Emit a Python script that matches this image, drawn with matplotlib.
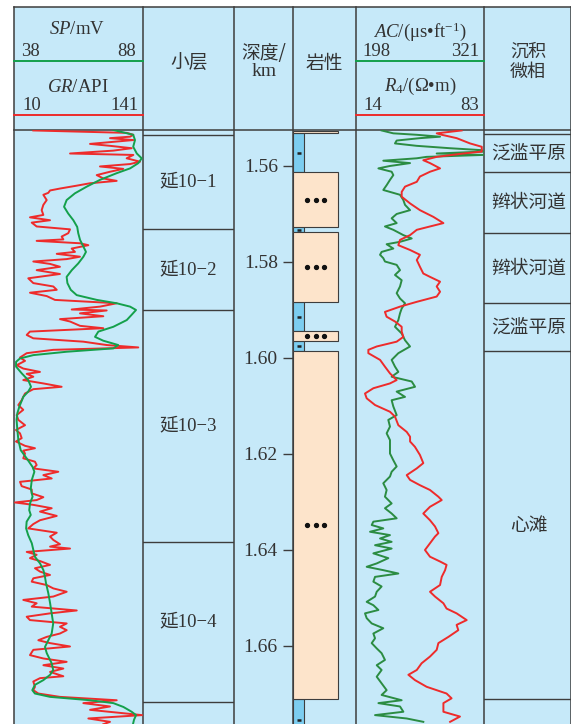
import matplotlib
matplotlib.use('Agg')
import matplotlib.pyplot as plt
from matplotlib.patches import Rectangle

plt.rcParams['mathtext.fontset'] = 'custom'
plt.rcParams['mathtext.rm'] = 'Liberation Serif'
plt.rcParams['mathtext.it'] = 'Liberation Serif:italic'

# ---- well log data (depth in km) ----
SP_DEPTH = [1.5525, 1.5535, 1.5546, 1.5560, 1.5574, 1.5584, 1.5594, 1.5605, 1.5615, 1.5629,
            1.5643, 1.5657, 1.5671, 1.5685, 1.5699, 1.5713, 1.5727, 1.5740, 1.5754, 1.5768,
            1.5779, 1.5789, 1.5803, 1.5817, 1.5831, 1.5844, 1.5858, 1.5869, 1.5879, 1.5886,
            1.5893, 1.5900, 1.5910, 1.5921, 1.5935, 1.5945, 1.5956, 1.5964, 1.5973, 1.5980,
            1.5987, 1.5994, 1.6001, 1.6008, 1.6018, 1.6032, 1.6046, 1.6060, 1.6070, 1.6081,
            1.6101, 1.6115, 1.6129, 1.6150, 1.6171, 1.6192, 1.6209, 1.6227, 1.6237, 1.6254,
            1.6272, 1.6289, 1.6303, 1.6317, 1.6327, 1.6341, 1.6355, 1.6369, 1.6386, 1.6400,
            1.6414, 1.6428, 1.6442, 1.6456, 1.6469, 1.6490, 1.6511, 1.6532, 1.6553, 1.6574,
            1.6588, 1.6602, 1.6615, 1.6636, 1.6650, 1.6660, 1.6671, 1.6681, 1.6692, 1.6699,
            1.6706, 1.6713, 1.6719, 1.6727, 1.6737, 1.6744, 1.6754, 1.6761]
SP = [76.5, 84.2, 84.9, 84.2, 85.6, 87.5, 86.2, 83.0, 77.8, 71.3,
      66.2, 61.6, 58.4, 57.4, 59.0, 61.0, 62.5, 62.9, 63.6, 64.9,
      65.9, 64.9, 62.9, 60.4, 58.4, 58.7, 60.0, 62.3, 70.1, 77.8,
      83.0, 85.3, 83.6, 81.7, 76.5, 70.7, 69.4, 72.6, 78.4, 76.5,
      58.4, 45.5, 40.3, 38.8, 38.8, 41.0, 43.5, 44.6, 43.5, 41.6,
      40.1, 39.3, 39.0, 39.3, 39.7, 40.6, 42.9, 45.2, 45.9, 44.9,
      44.5, 45.2, 44.2, 43.9, 44.5, 42.9, 42.7, 43.5, 44.9, 45.5,
      46.1, 48.1, 49.4, 50.0, 50.4, 51.3, 52.0, 52.6, 53.2, 52.6,
      51.3, 50.0, 50.7, 52.6, 53.2, 52.0, 49.4, 46.1, 45.1, 46.1,
      52.0, 67.5, 76.5, 80.4, 83.6, 85.3, 84.5, 84.2]

GR_DEPTH = [1.5526, 1.5531, 1.5535, 1.5539, 1.5542, 1.5546, 1.5554, 1.5558, 1.5563, 1.5568,
            1.5574, 1.5577, 1.5584, 1.5591, 1.5596, 1.5601, 1.5606, 1.5612, 1.5619, 1.5626,
            1.5631, 1.5636, 1.5641, 1.5647, 1.5651, 1.5656, 1.5660, 1.5671, 1.5681, 1.5692,
            1.5702, 1.5707, 1.5713, 1.5718, 1.5726, 1.5732, 1.5740, 1.5747, 1.5753, 1.5756,
            1.5761, 1.5765, 1.5772, 1.5779, 1.5783, 1.5789, 1.5794, 1.5799, 1.5804, 1.5810,
            1.5817, 1.5825, 1.5834, 1.5844, 1.5851, 1.5858, 1.5864, 1.5871, 1.5879, 1.5886,
            1.5893, 1.5899, 1.5901, 1.5907, 1.5913, 1.5919, 1.5924, 1.5933, 1.5938, 1.5945,
            1.5952, 1.5959, 1.5966, 1.5973, 1.5978, 1.5983, 1.5990, 1.5999, 1.6006, 1.6015,
            1.6022, 1.6029, 1.6033, 1.6039, 1.6046, 1.6053, 1.6060, 1.6065, 1.6074, 1.6081,
            1.6088, 1.6098, 1.6108, 1.6119, 1.6129, 1.6140, 1.6150, 1.6157, 1.6167, 1.6174,
            1.6183, 1.6188, 1.6193, 1.6199, 1.6209, 1.6216, 1.6223, 1.6230, 1.6237, 1.6244,
            1.6251, 1.6258, 1.6267, 1.6274, 1.6282, 1.6290, 1.6296, 1.6301, 1.6306, 1.6313,
            1.6320, 1.6329, 1.6338, 1.6346, 1.6355, 1.6364, 1.6372, 1.6379, 1.6388, 1.6393,
            1.6397, 1.6404, 1.6410, 1.6417, 1.6423, 1.6431, 1.6438, 1.6445, 1.6452, 1.6459,
            1.6466, 1.6473, 1.6480, 1.6487, 1.6497, 1.6504, 1.6511, 1.6518, 1.6526, 1.6532,
            1.6539, 1.6546, 1.6553, 1.6560, 1.6567, 1.6574, 1.6581, 1.6588, 1.6594, 1.6601,
            1.6608, 1.6619, 1.6626, 1.6633, 1.6640, 1.6647, 1.6654, 1.6663, 1.6667, 1.6674,
            1.6685, 1.6692, 1.6699, 1.6706, 1.6713, 1.6719, 1.6726, 1.6733, 1.6744, 1.6751,
            1.6758, 1.6763]
GR = [29.6, 124.4, 131.2, 127.8, 107.5, 131.2, 87.2, 107.5, 129.5, 110.8,
      66.9, 131.2, 124.4, 138.0, 127.8, 97.3, 121.0, 107.5, 94.0, 100.7,
      114.3, 87.2, 73.7, 56.7, 46.6, 44.8, 39.8, 43.2, 39.8, 38.1,
      39.8, 26.2, 46.6, 28.0, 33.0, 66.9, 65.1, 58.4, 60.1, 33.0,
      77.0, 85.5, 68.6, 71.9, 53.4, 77.0, 63.5, 29.6, 46.6, 56.7,
      33.0, 56.7, 24.5, 29.6, 49.9, 53.4, 26.2, 43.2, 51.6, 114.3,
      97.3, 68.6, 104.1, 77.0, 100.7, 56.7, 66.9, 77.0, 100.7, 26.2,
      22.9, 29.6, 80.4, 104.1, 136.2, 49.9, 22.9, 16.1, 21.2, 12.7,
      19.4, 36.4, 22.9, 29.6, 19.4, 39.8, 58.4, 29.6, 21.2, 19.4,
      17.8, 14.4, 19.4, 12.7, 14.4, 21.2, 12.0, 16.1, 17.8, 12.0,
      21.2, 31.3, 19.4, 21.2, 19.4, 31.3, 33.0, 29.6, 55.0, 39.8,
      48.3, 16.1, 17.8, 28.0, 28.0, 39.8, 33.0, 11.0, 29.6, 48.3,
      36.4, 53.4, 36.4, 29.6, 24.5, 53.4, 46.6, 49.9, 56.7, 46.6,
      66.9, 22.9, 33.0, 26.2, 36.4, 46.6, 31.3, 36.4, 46.6, 29.6,
      28.0, 43.2, 49.9, 63.5, 49.9, 19.4, 33.0, 28.0, 73.7, 46.6,
      22.9, 26.2, 63.5, 56.7, 63.5, 56.7, 43.2, 34.7, 46.6, 66.9,
      29.6, 26.2, 39.8, 63.5, 39.8, 60.1, 46.6, 60.1, 36.4, 29.6,
      31.3, 29.6, 34.7, 56.7, 114.3, 80.4, 107.5, 87.2, 140.0, 85.5,
      107.5, 100.7]

AC_DEPTH = [1.5526, 1.5532, 1.5535, 1.5539, 1.5542, 1.5547, 1.5553, 1.5558, 1.5563, 1.5567,
            1.5570, 1.5574, 1.5577, 1.5581, 1.5584, 1.5589, 1.5594, 1.5600, 1.5605, 1.5612,
            1.5619, 1.5629, 1.5640, 1.5650, 1.5660, 1.5671, 1.5681, 1.5692, 1.5700, 1.5709,
            1.5719, 1.5726, 1.5733, 1.5744, 1.5751, 1.5758, 1.5763, 1.5772, 1.5779, 1.5785,
            1.5792, 1.5799, 1.5806, 1.5817, 1.5827, 1.5838, 1.5851, 1.5865, 1.5876, 1.5886,
            1.5897, 1.5907, 1.5921, 1.5935, 1.5949, 1.5963, 1.5976, 1.5990, 1.6004, 1.6018,
            1.6029, 1.6039, 1.6049, 1.6060, 1.6070, 1.6081, 1.6088, 1.6101, 1.6119, 1.6129,
            1.6143, 1.6157, 1.6171, 1.6185, 1.6199, 1.6213, 1.6226, 1.6237, 1.6247, 1.6261,
            1.6275, 1.6289, 1.6303, 1.6313, 1.6324, 1.6334, 1.6341, 1.6348, 1.6355, 1.6362,
            1.6369, 1.6376, 1.6383, 1.6390, 1.6397, 1.6407, 1.6417, 1.6428, 1.6435, 1.6442,
            1.6449, 1.6456, 1.6466, 1.6476, 1.6487, 1.6497, 1.6508, 1.6515, 1.6525, 1.6532,
            1.6542, 1.6553, 1.6563, 1.6574, 1.6584, 1.6594, 1.6605, 1.6615, 1.6629, 1.6640,
            1.6650, 1.6664, 1.6678, 1.6692, 1.6702, 1.6713, 1.6719, 1.6726, 1.6737, 1.6744,
            1.6751, 1.6758]
AC = [223.0, 234.2, 256.5, 278.9, 259.7, 237.4, 235.8, 256.5, 288.4, 318.7,
      320.3, 275.7, 320.3, 266.1, 256.5, 224.6, 250.2, 231.0, 219.9, 232.6,
      234.2, 231.0, 227.8, 224.6, 240.6, 243.8, 245.4, 250.2, 237.4, 232.6,
      237.4, 226.2, 234.2, 243.8, 251.8, 240.6, 227.8, 234.2, 223.0, 221.5,
      224.6, 226.2, 237.4, 240.6, 235.8, 242.2, 240.6, 237.4, 240.6, 245.4,
      242.2, 240.6, 239.0, 235.8, 242.2, 245.4, 250.2, 239.0, 232.6, 235.8,
      239.0, 232.6, 251.8, 255.0, 237.4, 245.4, 232.6, 234.2, 237.4, 229.4,
      231.0, 227.8, 231.0, 231.0, 231.0, 234.2, 237.4, 232.6, 231.0, 224.6,
      227.8, 226.2, 232.6, 226.2, 232.6, 237.4, 215.1, 213.5, 224.6, 211.9,
      231.0, 221.5, 232.6, 216.7, 232.6, 215.1, 229.4, 218.3, 208.7, 224.6,
      239.0, 216.7, 215.1, 223.0, 218.3, 216.7, 208.7, 215.1, 219.9, 207.1,
      208.7, 213.5, 224.6, 215.1, 216.7, 213.5, 218.3, 223.0, 226.2, 218.3,
      223.0, 218.3, 223.0, 227.8, 223.0, 242.2, 219.9, 240.6, 243.8, 216.7,
      247.0, 262.9]

R4_DEPTH = [1.5526, 1.5532, 1.5535, 1.5542, 1.5553, 1.5560, 1.5570, 1.5574, 1.5581, 1.5588,
            1.5594, 1.5605, 1.5612, 1.5622, 1.5633, 1.5643, 1.5654, 1.5664, 1.5678, 1.5692,
            1.5706, 1.5719, 1.5726, 1.5733, 1.5744, 1.5754, 1.5765, 1.5775, 1.5785, 1.5796,
            1.5810, 1.5824, 1.5831, 1.5841, 1.5851, 1.5862, 1.5872, 1.5883, 1.5893, 1.5904,
            1.5914, 1.5924, 1.5935, 1.5945, 1.5956, 1.5966, 1.5976, 1.5983, 1.5990, 1.6004,
            1.6018, 1.6032, 1.6046, 1.6053, 1.6063, 1.6074, 1.6084, 1.6098, 1.6112, 1.6122,
            1.6140, 1.6154, 1.6164, 1.6174, 1.6185, 1.6202, 1.6219, 1.6230, 1.6244, 1.6254,
            1.6265, 1.6275, 1.6289, 1.6296, 1.6310, 1.6324, 1.6338, 1.6351, 1.6365, 1.6372,
            1.6386, 1.6400, 1.6414, 1.6424, 1.6431, 1.6442, 1.6456, 1.6473, 1.6487, 1.6497,
            1.6511, 1.6522, 1.6532, 1.6546, 1.6556, 1.6567, 1.6581, 1.6594, 1.6608, 1.6622,
            1.6636, 1.6650, 1.6660, 1.6671, 1.6685, 1.6699, 1.6709, 1.6719, 1.6737, 1.6747,
            1.6758]
R4 = [71.0, 57.6, 60.3, 68.3, 75.5, 81.8, 81.8, 71.9, 57.6, 50.4,
      54.0, 59.4, 54.0, 48.6, 46.9, 40.6, 38.8, 38.8, 43.3, 48.6,
      55.8, 61.2, 54.0, 46.9, 43.3, 37.9, 37.0, 43.3, 48.6, 46.9,
      48.6, 50.4, 54.0, 59.4, 57.6, 59.4, 57.6, 46.9, 37.9, 29.8,
      30.7, 35.2, 38.8, 38.8, 39.7, 36.1, 25.4, 20.9, 20.9, 27.2,
      29.8, 32.5, 36.1, 32.5, 23.6, 19.1, 20.0, 24.5, 32.5, 35.2,
      37.0, 41.5, 43.3, 43.3, 45.9, 48.6, 50.4, 46.9, 41.5, 43.3,
      48.6, 54.0, 58.5, 60.3, 54.0, 50.4, 54.0, 56.7, 58.5, 56.7,
      54.0, 51.3, 54.0, 59.4, 62.9, 62.1, 60.3, 59.4, 54.0, 56.7,
      61.2, 62.9, 68.3, 73.7, 68.3, 69.2, 63.9, 58.5, 57.6, 54.0,
      49.5, 46.9, 42.4, 45.9, 52.2, 62.9, 65.6, 61.2, 61.2, 70.1,
      64.8]

# lithology intervals (top, base)
SAND = [(1.5527, 1.5532), (1.5612, 1.5728), (1.5738, 1.5884), (1.5944, 1.5965), (1.5985, 1.6710)]
MUD = [(1.5532, 1.5612), (1.5728, 1.5738), (1.5884, 1.5944), (1.5965, 1.5985), (1.6710, 1.6800)]

LAYER_TOPS = [1.5535, 1.5731, 1.5900, 1.6383, 1.6717]
LAYER_NAMES = ['延10−1', '延10−2', '延10−3', '延10−4']

FACIES_TOPS = [1.5533, 1.5612, 1.5739, 1.5885, 1.5985, 1.6711]
FACIES_NAMES = ['泛滥平原', '辫状河道', '辫状河道', '泛滥平原', '心滩']

DEPTH_TICKS = [1.56, 1.58, 1.60, 1.62, 1.64, 1.66]
DEPTH_TOP, DEPTH_BOT = 1.5524, 1.67625

# ---- styles ----
BG = '#c6e9f9'
MUD_C = '#7ccdf0'
SAND_C = '#fde4cb'
EDGE = '#3d3d3d'
TXT = '#333333'
RED = '#ee2b2b'
GREEN = '#14a04b'
GREEN2 = '#2b8c42'
CJK = ['Noto Sans CJK SC', 'DejaVu Sans']
MIX = ['Liberation Serif', 'Noto Sans CJK SC']
SERIF = 'Liberation Serif'

W, H = 571, 724
HEAD = 129.5
COLS = [14, 143, 234, 293, 355.5, 484, 570.5]

fig = plt.figure(figsize=(W / 100, H / 100), dpi=100)
fig.patch.set_facecolor('white')

# frame and header drawn in pixel units
base = fig.add_axes([0, 0, 1, 1])
base.set_xlim(0, W)
base.set_ylim(H, 0)
base.axis('off')
base.add_patch(Rectangle((14, 7), 557, 717, fc=BG, ec='none'))
for x in COLS:
    base.plot([x, x], [7, H], color=EDGE, lw=1.1)
base.plot([14, 570.5], [7, 7], color=EDGE, lw=1.1)
base.plot([14, 570.5], [HEAD, HEAD], color=EDGE, lw=1.1)

# track 1 header
base.plot([14, 143], [61, 61], color=GREEN, lw=1.4)
base.plot([14, 143], [115, 115], color=RED, lw=1.4)
base.text(77, 30, r'$SP$/mV', ha='center', va='center', fontsize=13.5, family=SERIF, color=TXT)
base.text(21, 51.5, '38', ha='left', va='center', fontsize=13.5, family=SERIF, color=TXT)
base.text(136, 51.5, '88', ha='right', va='center', fontsize=13.5, family=SERIF, color=TXT)
base.text(78, 87, r'$GR$/API', ha='center', va='center', fontsize=13.5, family=SERIF, color=TXT)
base.text(22, 105.5, '10', ha='left', va='center', fontsize=13.5, family=SERIF, color=TXT)
base.text(139, 105.5, '141', ha='right', va='center', fontsize=13.5, family=SERIF, color=TXT)

# track 2 header
base.plot([355.5, 484], [61, 61], color=GREEN, lw=1.4)
base.plot([355.5, 484], [115, 115], color=RED, lw=1.4)
base.text(420, 32, r'$AC$/(μs•ft$^{-1}$)', ha='center', va='center', fontsize=13.5, family=SERIF, color=TXT)
base.text(362, 51, '198', ha='left', va='center', fontsize=13.5, family=SERIF, color=TXT)
base.text(479, 51, '321', ha='right', va='center', fontsize=13.5, family=SERIF, color=TXT)
base.text(420, 86, r'$R_4$/(Ω•m)', ha='center', va='center', fontsize=13.5, family=SERIF, color=TXT)
base.text(363, 106, '14', ha='left', va='center', fontsize=13.5, family=SERIF, color=TXT)
base.text(479, 106, '83', ha='right', va='center', fontsize=13.5, family=SERIF, color=TXT)

# column titles
base.text(189, 63, '小层', ha='center', va='center', fontsize=13.5, family=CJK, color=TXT)
base.text(264, 54, '深度/', ha='center', va='center', fontsize=13.5, family=CJK, color=TXT)
base.text(264, 72, 'km', ha='center', va='center', fontsize=14, family=SERIF, color=TXT)
base.text(324, 63, '岩性', ha='center', va='center', fontsize=13.5, family=CJK, color=TXT)
base.text(528, 51.5, '沉积', ha='center', va='center', fontsize=13, family=CJK, color=TXT)
base.text(528, 71.5, '微相', ha='center', va='center', fontsize=13, family=CJK, color=TXT)


def track(x0, x1):
    ax = fig.add_axes([x0 / W, 0, (x1 - x0) / W, (H - HEAD) / H])
    ax.set_facecolor('none')
    ax.set_ylim(DEPTH_BOT, DEPTH_TOP)
    for s in ax.spines.values():
        s.set_visible(False)
    ax.set_xticks([])
    ax.set_yticks([])
    return ax


# GR / SP track
ax_gr = track(14, 143)
ax_gr.set_xlim(10, 141)
ax_gr.plot(GR, GR_DEPTH, color=RED, lw=1.4)
ax_sp = ax_gr.twiny()
ax_sp.set_xlim(38, 88)
ax_sp.set_ylim(DEPTH_BOT, DEPTH_TOP)
ax_sp.axis('off')
ax_sp.plot(SP, SP_DEPTH, color=GREEN, lw=1.4)

# sub-layer column
ax_layer = track(143, 234)
ax_layer.set_xlim(0, 1)
for d in LAYER_TOPS:
    ax_layer.axhline(d, color=EDGE, lw=1.0)
for i, name in enumerate(LAYER_NAMES):
    mid = (LAYER_TOPS[i] + LAYER_TOPS[i + 1]) / 2
    ax_layer.text(0.5, mid, name, ha='center', va='center', fontsize=13.5, family=MIX, color=TXT)

# lithology column with depth ticks
ax_lith = track(293, 355.5)
ax_lith.set_xlim(0, 1)
for top, bot in MUD:
    ax_lith.add_patch(Rectangle((0, top), 0.176, bot - top, fc=MUD_C, ec=EDGE, lw=0.8))
    mid = (top + bot) / 2
    ax_lith.plot([0.06, 0.125], [mid, mid], color='#222222', lw=1.8, solid_capstyle='butt')
for top, bot in SAND:
    ax_lith.add_patch(Rectangle((0, top), 0.72, bot - top, fc=SAND_C, ec=EDGE, lw=0.8))
    if bot - top > 0.001:
        mid = (top + bot) / 2
        ax_lith.plot([0.23, 0.36, 0.49], [mid] * 3, 'o', ms=2.8, color='#111111')
ax_lith.set_yticks(DEPTH_TICKS)
ax_lith.set_yticklabels(['%.2f' % d for d in DEPTH_TICKS])
ax_lith.tick_params(axis='y', direction='out', length=7.5, width=1.0, color=EDGE,
                    pad=3.5, labelsize=14, labelcolor=TXT)
for lab in ax_lith.get_yticklabels():
    lab.set_fontfamily(SERIF)

# AC / R4 track
ax_ac = track(355.5, 484)
ax_ac.set_xlim(198, 321)
ax_ac.plot(AC, AC_DEPTH, color=GREEN2, lw=1.4)
ax_r4 = ax_ac.twiny()
ax_r4.set_xlim(14, 83)
ax_r4.set_ylim(DEPTH_BOT, DEPTH_TOP)
ax_r4.axis('off')
ax_r4.plot(R4, R4_DEPTH, color=RED, lw=1.4)

# sedimentary microfacies column
ax_fac = track(484, 570.5)
ax_fac.set_xlim(0, 1)
for d in FACIES_TOPS:
    ax_fac.axhline(d, color=EDGE, lw=1.0)
for i, name in enumerate(FACIES_NAMES):
    mid = (FACIES_TOPS[i] + FACIES_TOPS[i + 1]) / 2
    ax_fac.text(0.52, mid, name, ha='center', va='center', fontsize=13.5, family=CJK, color=TXT)

fig.savefig('out.png', dpi=100)
